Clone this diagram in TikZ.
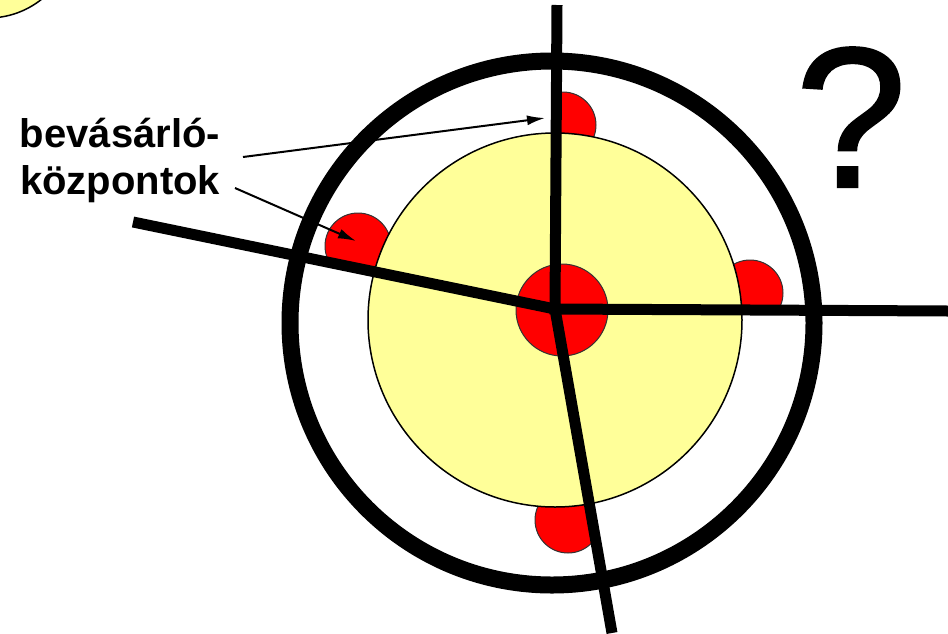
\documentclass[tikz,border=0pt]{standalone}
\usepackage{fontspec}
\setmainfont{Liberation Sans}
\newfontfamily\queryfont[FakeBold=1.2]{Liberation Sans}
\usetikzlibrary{arrows.meta}
\definecolor{paleyellow}{RGB}{255,255,153}
\definecolor{shopred}{RGB}{255,0,0}
\tikzset{
  zone/.style={fill=paleyellow,draw=black,line width=0.75pt},
  shop/.style={fill=shopred,draw=black!80,line width=0.5pt},
  spoke/.style={line width=5.5pt},
  pointer/.style={line width=1pt,-{Latex[length=9pt,width=5pt]}}
}
\begin{document}
\begin{tikzpicture}[x=0.5pt,y=-0.5pt]
\useasboundingbox (0,0) rectangle (948,633);
% hub and spoke ends (pixel grid, y downwards)
\coordinate (hub) at (555,309);
\coordinate (spokeN) at (557,5);
\coordinate (spokeE) at (948,311);
\coordinate (spokeS) at (612,633);
\coordinate (spokeW) at (133,222);
% neighbouring town, top left corner
\draw[zone] (-12,-68) circle (86);
% shopping centres on the edge of the town, cut by the spokes
\begin{scope}
\clip (hub) -- (spokeN) -- (948,0) -- (spokeE) -- cycle;
\draw[shop] (563,125) circle (33);
\draw[shop] (750,293) circle (33);
\end{scope}
\begin{scope}
\clip (hub) -- (spokeW) -- (0,0) -- (spokeN) -- cycle;
\draw[shop] (358,246) circle (33);
\end{scope}
\begin{scope}
\clip (hub) -- (spokeS) -- (0,633) -- (spokeW) -- cycle;
\draw[shop] (568,520) circle (33);
\end{scope}
% the town and its centre
\draw[zone] (555,320) circle (187);
\draw[shop] (562,310) circle (46);
% outer ring road
\draw[line width=8.5pt] (552,323) circle (262);
% radial roads
\draw[spoke] (spokeN) -- (hub) -- (spokeE);
\draw[spoke] (spokeW) -- (hub) -- (spokeS);
% labels
\node[font=\bfseries\fontsize{20}{23.5}\selectfont,align=center,inner sep=0] (shops) at (120,160) {bevásárló-\\központok};
\node[font=\queryfont\fontsize{100}{120}\selectfont,anchor=base,inner sep=0] (query) at (851,187) {?};
\coordinate (tailA) at (243,157);
\coordinate (tipA) at (545,118);
\coordinate (tailB) at (235,188);
\coordinate (tipB) at (356,241);
\draw[pointer] (tailA) -- (tipA);
\draw[pointer] (tailB) -- (tipB);
\end{tikzpicture}
\end{document}
